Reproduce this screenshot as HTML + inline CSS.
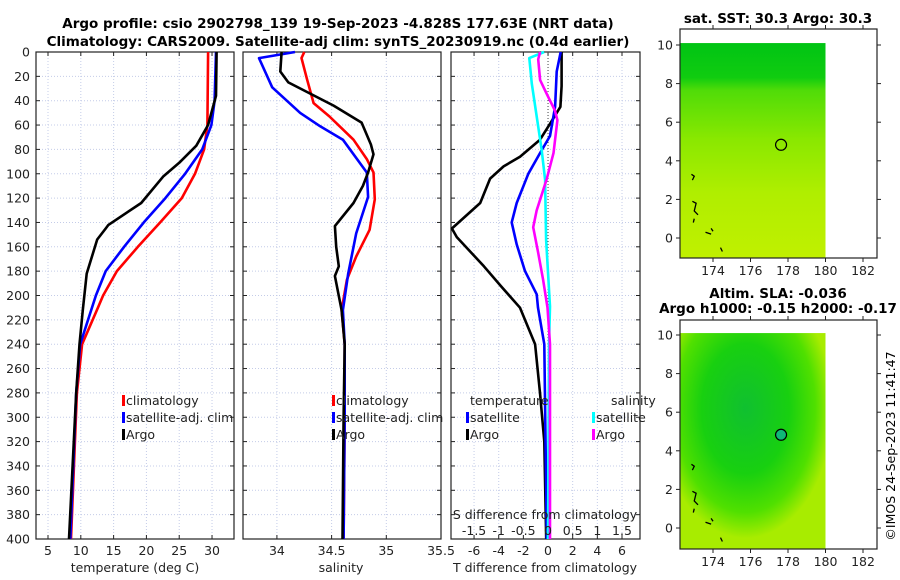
<!DOCTYPE html>
<html><head><meta charset="utf-8"><style>
body{margin:0;background:#fff;}
svg{display:block;font-family:"DejaVu Sans","Liberation Sans",sans-serif;}
</style></head><body>
<svg id="fig" width="900" height="580" viewBox="0 0 900 580" xmlns="http://www.w3.org/2000/svg">
<defs>
<linearGradient id="sstg" x1="0" y1="0" x2="0" y2="1">
<stop offset="0" stop-color="#00c414"/><stop offset="0.16" stop-color="#10cc10"/><stop offset="0.22" stop-color="#50dc08"/>
<stop offset="0.45" stop-color="#8ae800"/><stop offset="0.7" stop-color="#b0ee00"/><stop offset="1" stop-color="#c0f000"/></linearGradient>
<radialGradient id="slag" cx="0.45" cy="0.35" r="0.6">
<stop offset="0" stop-color="#10c030"/><stop offset="0.5" stop-color="#18d010"/><stop offset="0.8" stop-color="#50e000"/><stop offset="1" stop-color="#a8ec00"/></radialGradient>
</defs>
<g font-weight="bold" font-size="13.5" text-anchor="middle" fill="#000">
<text x="338" y="28">Argo profile: csio 2902798_139 19-Sep-2023 -4.828S 177.63E (NRT data)</text>
<text x="338" y="46">Climatology: CARS2009. Satellite-adj clim: synTS_20230919.nc (0.4d earlier)</text>
<text x="778" y="23">sat. SST: 30.3 Argo: 30.3</text>
<text x="778" y="298">Altim. SLA: -0.036</text>
<text x="778" y="313">Argo h1000: -0.15 h2000: -0.17</text>
</g>
<g id="panels"></g>
<text font-size="12.5" transform="translate(895,446) rotate(-90)" text-anchor="middle">©IMOS 24-Sep-2023 11:41:47</text>
</svg>
<script>
// ---- data ----
const tempClimDepth=[0,60,80,100,120,140,160,180,200,210,240,280,400];
const tempClim=[29.4,29.3,28.8,27.4,25.4,22.1,18.7,15.5,13.4,12.6,10.2,9.4,8.5];
const tempSatDepth=[0,40,60,80,100,120,140,160,180,200,240,280,400];
const tempSat=[30.6,30.4,29.9,28.5,25.9,22.9,19.6,16.6,13.8,12.3,9.9,9.3,8.4];
const tempArgoDepth=[0,36,60,77,91,102,124,142,145,154,182,212,240,280,400];
const tempArgo=[30.7,30.6,29.4,27.6,25.0,22.6,19.2,14.2,13.8,12.5,10.9,10.3,9.8,9.3,8.2];
const salSatDepth=[0,5,29,50,61,72,99,119,149,182,212,240,300,400];
const salSat=[34.165,33.836,33.957,34.213,34.396,34.603,34.822,34.834,34.725,34.652,34.603,34.62,34.62,34.61];
const salClimDepth=[0,5,22,42,53,72,88,99,121,146,168,187,212,240,300,400];
const salClim=[34.25,34.225,34.274,34.335,34.481,34.70,34.822,34.883,34.895,34.847,34.725,34.64,34.591,34.62,34.62,34.61];
const salArgoDepth=[0,16,25,44,58,76,84,99,110,124,143,160,176,184,212,240,300,400];
const salArgo=[34.043,34.031,34.104,34.518,34.774,34.859,34.883,34.834,34.786,34.70,34.53,34.542,34.566,34.53,34.591,34.62,34.61,34.60];
const dTArgoDepth=[0,28,45,59,72,86,94,104,124,145,152,176,193,210,240,280,320,400];
const dTArgo=[1.1,1.1,1.0,0.16,-0.65,-2.27,-3.6,-4.7,-5.5,-7.8,-7.4,-5.2,-3.76,-2.27,-1.05,-0.65,-0.3,-0.15];
const dTSatDepth=[0,16,45,69,83,100,124,140,158,180,199,210,240,400];
const dTSat=[1.03,0.7,0.57,0.16,-0.65,-1.6,-2.54,-2.95,-2.54,-1.87,-0.92,-0.81,-0.3,-0.1];
const dSSatDepth=[0,5,26,53,80,105,154,209,240,400];
const dSSat=[-0.08,-0.38,-0.33,-0.23,-0.13,-0.06,-0.04,0.04,0.02,0.0];
const dSArgoDepth=[0,6,23,34,48,56,83,105,130,144,165,187,210,240,400];
const dSArgo=[-0.16,-0.2,-0.16,-0.03,0.14,0.19,0.11,-0.03,-0.23,-0.3,-0.2,-0.1,-0.01,0.04,0.04];
const depthTicks=[0,20,40,60,80,100,120,140,160,180,200,220,240,260,280,300,320,340,360,380,400];
const tempTicks=[5,10,15,20,25,30];
const salTicks=[34,34.5,35,35.5];
const dTTicks=[-6,-4,-2,0,2,4,6];
const dSTicks=[-1.5,-1,-0.5,0,0.5,1,1.5];
const lonTicks=[174,176,178,180,182];
const latTicks=[0,2,4,6,8,10];
const argoLon=177.63, argoLat=4.83;

const NS='http://www.w3.org/2000/svg';
const root=document.getElementById('panels');
function mk(tag,attrs,parent){const e=document.createElementNS(NS,tag);for(const k in attrs)e.setAttribute(k,attrs[k]);(parent||root).appendChild(e);return e;}
function txt(s,x,y,anchor,size,parent){const t=mk('text',{x:x,y:y,'text-anchor':anchor||'start','font-size':size||12.5,fill:'#222'},parent);t.textContent=s;return t;}
const Y0=52,Y1=539;
const yD=d=>Y0+(d/400)*(Y1-Y0);

function panel(name,x0,x1,vmin,vmax,ticks,fmt){
  const g=mk('g',{});
  
  
  const sx=v=>x0+(v-vmin)/(vmax-vmin)*(x1-x0);
  ticks.forEach(t=>{const l=mk('line',{x1:sx(t),x2:sx(t),y1:Y0,y2:Y1,stroke:'#c4cce8','stroke-width':1,'stroke-dasharray':'1,2'},g);
    });
  depthTicks.forEach(d=>{const l=mk('line',{x1:x0,x2:x1,y1:yD(d),y2:yD(d),stroke:'#c4cce8','stroke-width':1,'stroke-dasharray':'1,2'},g);
    
    mk('line',{x1:x0,x2:x0+4,y1:yD(d),y2:yD(d),stroke:'#222'},g);mk('line',{x1:x1-4,x2:x1,y1:yD(d),y2:yD(d),stroke:'#222'},g);});
  ticks.forEach(t=>{mk('line',{x1:sx(t),x2:sx(t),y1:Y1,y2:Y1-4,stroke:'#222'},g);mk('line',{x1:sx(t),x2:sx(t),y1:Y0,y2:Y0+4,stroke:'#222'},g);
    if(fmt){const tl=txt(fmt(t),sx(t),Y1+16,'middle',12.5,g);}});
  const b=mk('rect',{x:x0,y:Y0,width:x1-x0,height:Y1-Y0,fill:'none',stroke:'#222','stroke-width':1.2},g);
  
  return {g,sx};
}
function line(p,name,vals,depths,color,sx){
  const pts=vals.map((v,i)=>sx(v).toFixed(1)+','+yD(depths[i]).toFixed(1)).join(' ');
  const l=mk('polyline',{points:pts,fill:'none',stroke:color,'stroke-width':2.6,'stroke-linejoin':'round'},p.g);
  
}
function legend(g,items,xm,y0){
  items.forEach((it,i)=>{const y=y0+i*17;
    mk('rect',{x:xm,y:y-10,width:3,height:11,fill:it[1]},g);
    const t=txt(it[0],xm+4,y,'start',12.5,g);});
}
// Panel 1
const p1=panel('temperature-panel',36,234,3.17,33.35,tempTicks,t=>String(t));
depthTicks.forEach(d=>{const t=txt(String(d),30,yD(d)+4.5,'end',12.5,p1.g);});
line(p1,'temp-climatology-line',tempClim,tempClimDepth,'#f00',p1.sx);
line(p1,'temp-satellite-line',tempSat,tempSatDepth,'#00f',p1.sx);
line(p1,'temp-argo-line',tempArgo,tempArgoDepth,'#000',p1.sx);
legend(p1.g,[['climatology','#f00'],['satellite-adj. clim','#00f'],['Argo','#000']],122,405);
let t=txt('temperature (deg C)',135,572,'middle',12.5,p1.g);
// Panel 2
const p2=panel('salinity-panel',243,441,33.69,35.5,salTicks,t=>String(t));
line(p2,'sal-climatology-line',salClim,salClimDepth,'#f00',p2.sx);
line(p2,'sal-satellite-line',salSat,salSatDepth,'#00f',p2.sx);
line(p2,'sal-argo-line',salArgo,salArgoDepth,'#000',p2.sx);
legend(p2.g,[['climatology','#f00'],['satellite-adj. clim','#00f'],['Argo','#000']],332,405);
t=txt('salinity',341,572,'middle',12.5,p2.g);
// Panel 3
const p3=panel('difference-panel',451,640,-7.87,7.46,dTTicks,t=>String(t));
const sxS=v=>p3.sx(v*4);
mk('line',{x1:p3.sx(0),x2:p3.sx(0),y1:Y0,y2:Y1,stroke:'#444','stroke-width':1,'stroke-dasharray':'1,2'},p3.g);
line(p3,'dT-argo-line',dTArgo,dTArgoDepth,'#000',p3.sx);
line(p3,'dT-satellite-line',dTSat,dTSatDepth,'#00f',p3.sx);
line(p3,'dS-satellite-line',dSSat,dSSatDepth,'#0ff',sxS);
line(p3,'dS-argo-line',dSArgo,dSArgoDepth,'#f0f',sxS);
t=txt('temperature',470,405,'start',12.5,p3.g);
t=txt('salinity',611,405,'start',12.5,p3.g);
legend(p3.g,[['satellite','#00f'],['Argo','#000']],466,422);
legend(p3.g,[['satellite','#0ff'],['Argo','#f0f']],592,422);
t=txt('S difference from climatology',545,519,'middle',12.5,p3.g);
dSTicks.forEach(v=>{const l=txt(String(v),sxS(v),535,'middle',12.5,p3.g);});
t=txt('T difference from climatology',545,572,'middle',12.5,p3.g);

// Maps
function map(name,boxTop,yLat0,fill,dotFill){
  const g=mk('g',{});
  
  
  const bx0=680,bx1=877,boxBot=boxTop+229;
  const lx=lon=>713+(lon-174)*18.75, ly=lat=>yLat0-lat*19.3;
  const im=mk('rect',{x:bx0,y:ly(10.1),width:lx(180)-bx0,height:boxBot-ly(10.1),fill:fill},g);
  
  [[[172.85,3.3],[173.0,3.2],[172.9,3.0]],[[172.9,1.9],[173.1,1.8],[173.0,1.4],[173.2,1.2]],[[173.0,1.0],[172.95,0.8]],[[173.6,0.3],[173.9,0.2]],[[173.9,0.5],[174.0,0.35]],[[174.4,-0.5],[174.5,-0.7]]].forEach(c=>{
    mk('polyline',{points:c.map(p=>lx(p[0])+','+ly(p[1])).join(' '),fill:'none',stroke:'#000','stroke-width':1.3},g);});
  const c=mk('circle',{cx:lx(argoLon),cy:ly(argoLat),r:5.5,fill:dotFill,stroke:'#000','stroke-width':1.2},g);
  
  const b=mk('rect',{x:bx0,y:boxTop,width:bx1-bx0,height:229,fill:'none',stroke:'#222','stroke-width':1.2},g);
  
  lonTicks.forEach(l=>{mk('line',{x1:lx(l),x2:lx(l),y1:boxBot,y2:boxBot+4,stroke:'#222'},g);mk('line',{x1:lx(l),x2:lx(l),y1:boxTop,y2:boxTop-4,stroke:'#222'},g);
    const tl=txt(String(l),lx(l),boxBot+17,'middle',12.5,g);});
  latTicks.forEach(l=>{mk('line',{x1:bx0,x2:bx0-4,y1:ly(l),y2:ly(l),stroke:'#222'},g);mk('line',{x1:bx1,x2:bx1+4,y1:ly(l),y2:ly(l),stroke:'#222'},g);
    const tl=txt(String(l),673,ly(l)+4.5,'end',12.5,g);});
}
map('sst-map',29,238,'url(#sstg)','none');
map('sla-map',320,528,'url(#slag)','#10b878');
</script>
</body></html>
